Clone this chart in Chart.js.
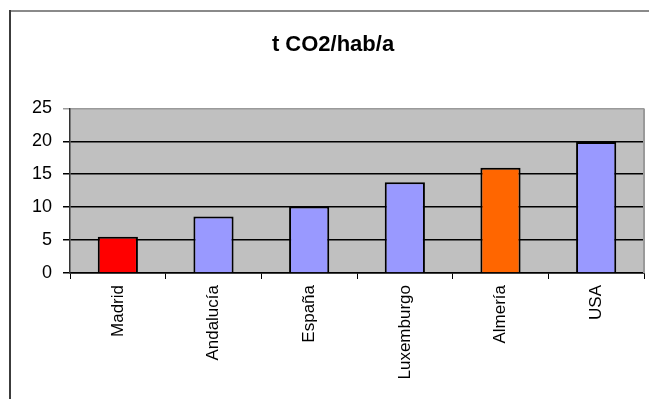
<!DOCTYPE html>
<html>
<head>
<meta charset="utf-8">
<title>t CO2/hab/a</title>
<script src="https://cdn.jsdelivr.net/npm/chart.js@4/dist/chart.umd.min.js"></script>
<style>
  html, body { margin: 0; padding: 0; background: #ffffff; }
  #wrap { width: 649px; height: 399px; position: relative; }
</style>
</head>
<body>
<div id="wrap"><canvas id="c" width="649" height="399"></canvas></div>
<script>
// Emisiones per cápita (toneladas de CO2 por habitante y año)
const regions = ['Madrid', 'Andalucía', 'España', 'Luxemburgo', 'Almería', 'USA'];
const emissions = [5.5, 8.6, 10.1, 13.8, 16, 19.9];
const yTicks = [0, 5, 10, 15, 20, 25];

const FONT = "'Liberation Sans', Arial, Helvetica, sans-serif";

const barColors = ['#ff0000', '#9999ff', '#9999ff', '#9999ff', '#ff6600', '#9999ff'];

// Gray plot background, outer frame and right border of the plot area
const framePlugin = {
  id: 'frame',
  beforeDraw(chart) {
    const { ctx, chartArea: a } = chart;
    ctx.save();
    ctx.fillStyle = '#c0c0c0';
    ctx.fillRect(a.left, a.top, a.right - a.left, a.bottom - a.top);
    // outer frame (top and left edges)
    ctx.fillStyle = '#8a8a8a';
    ctx.fillRect(10, 10, chart.width - 10, 2);
    ctx.fillStyle = '#3c3c3c';
    ctx.fillRect(9, 10, 2, chart.height - 10);
    ctx.restore();
  },
  afterDraw(chart) {
    const { ctx, chartArea: a } = chart;
    ctx.save();
    ctx.strokeStyle = '#9a9a9a';
    ctx.lineWidth = 2;
    ctx.beginPath();
    ctx.moveTo(a.right, a.top);
    ctx.lineTo(a.right, a.bottom);
    ctx.stroke();
    ctx.restore();
  }
};

new Chart(document.getElementById('c'), {
  type: 'bar',
  data: {
    labels: regions,
    datasets: [{
      data: emissions,
      backgroundColor: barColors,
      borderColor: '#000000',
      borderWidth: 2,
      categoryPercentage: 1,
      barPercentage: 0.42
    }]
  },
  options: {
    responsive: false,
    animation: false,
    devicePixelRatio: 1,
    layout: { padding: { left: 22, right: 5, top: 0, bottom: 0 } },
    plugins: {
      legend: { display: false },
      tooltip: { enabled: false },
      title: {
        display: true,
        text: 't CO2/hab/a',
        color: '#000000',
        font: { family: FONT, size: 22, weight: 'bold' },
        padding: { top: 32, bottom: 50 }
      }
    },
    scales: {
      x: {
        afterFit(scale) { scale.height = 126; },
        grid: {
          offset: true,
          drawOnChartArea: false,
          drawTicks: true,
          tickLength: 6,
          color: '#000000'
        },
        border: { color: '#000000', width: 1.5 },
        ticks: {
          autoSkip: false,
          maxRotation: 90,
          minRotation: 90,
          padding: 6,
          color: '#000000',
          font: { family: FONT, size: 17 }
        }
      },
      y: {
        min: 0,
        max: 25,
        afterFit(scale) { scale.width = 48; },
        afterBuildTicks(scale) { scale.ticks = yTicks.map(v => ({ value: v })); },
        grid: {
          drawTicks: true,
          tickLength: 7,
          lineWidth: 1.5,
          color: ctx => (ctx.tick && ctx.tick.value === 25) ? '#9a9a9a' : '#000000'
        },
        border: { color: '#333333', width: 1.5 },
        ticks: {
          padding: 11,
          color: '#000000',
          font: { family: FONT, size: 18 }
        }
      }
    }
  },
  plugins: [framePlugin]
});
</script>
</body>
</html>
